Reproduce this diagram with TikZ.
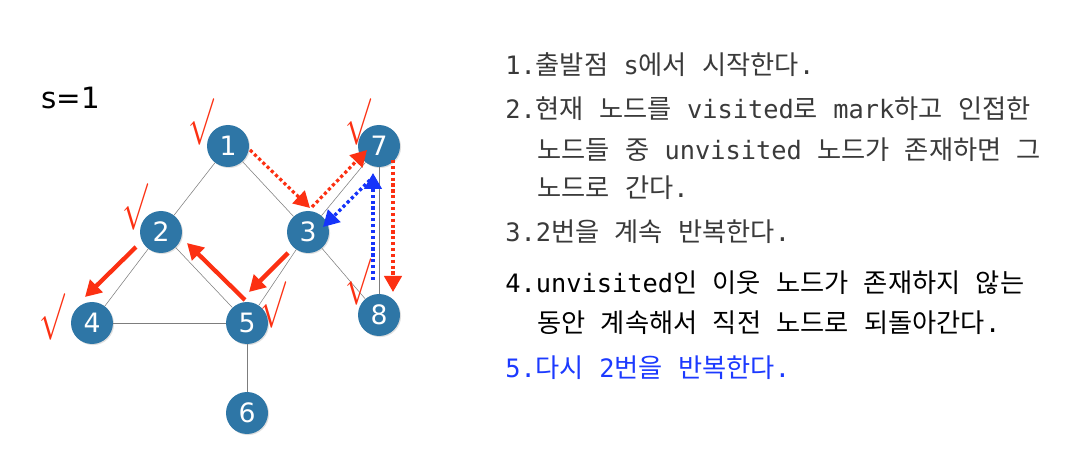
\documentclass[tikz,border=0pt]{standalone}
\usepackage{graphicx}
\usepackage{fontspec}
\setmainfont{DejaVu Sans}
\newfontfamily\kr[WordSpace=2.6]{Noto Sans CJK KR}
\newfontfamily\mono{DejaVu Sans Mono}
\newcommand\mn[1]{{\mono\fontsize{19pt}{22pt}\selectfont#1}}
\newcommand\haek{\scalebox{2.3}[3.5]{$\surd$}}
\usetikzlibrary{arrows,arrows.meta}
\usetikzlibrary{calc,shadows}
\definecolor{knoten}{RGB}{46,118,166}
\definecolor{kante}{RGB}{125,125,125}
\definecolor{rot}{RGB}{252,48,18}
\definecolor{blau}{RGB}{22,52,250}
\definecolor{textgrau}{RGB}{58,58,58}
\definecolor{textblau}{RGB}{28,58,255}

\begin{document}
\begin{tikzpicture}[x=0.75pt,y=-0.75pt,
	knot/.style={circle,fill=knoten,text=white,minimum size=31.5pt,inner sep=0pt,
		font=\fontsize{20pt}{20pt}\selectfont,
		drop shadow={shadow xshift=0.8pt,shadow yshift=-0.8pt,opacity=0.25}},
	haken/.style={text=rot,inner sep=0pt},
	rotpfeil/.style={rot,line width=3.2pt,-{Triangle[length=12pt,width=13pt]}},
	rotpunkt/.style={rot,line width=2.4pt,dash pattern=on 2.4pt off 2pt,-{Triangle[length=12pt,width=13pt]}},
	blaupunkt/.style={blau,line width=2.4pt,dash pattern=on 2.4pt off 2pt,-{Triangle[length=12pt,width=13pt]}},
	zeile/.style={anchor=base west,inner sep=0pt,font=\kr\fontsize{19.7pt}{23pt}\selectfont}]
	\path[use as bounding box,fill=white] (0,0) rectangle (1079,474);
	\node[name=start,anchor=base west,inner sep=0pt,font=\fontsize{22pt}{22pt}\selectfont] at (41,109) {s=1};
	% Knoten
	\node[knot,name=v1] at (228,146) {1};
	\node[knot,name=v2] at (161,232) {2};
	\node[knot,name=v3] at (308,232) {3};
	\node[knot,name=v4] at (92,323) {4};
	\node[knot,name=v5] at (247,323) {5};
	\node[knot,name=v6] at (247,413) {6};
	\node[knot,name=v7] at (379,146) {7};
	\node[knot,name=v8] at (379,315) {8};
	% Kanten
	\draw[kante] (v1) -- (v2) (v1) -- (v3);
	\draw[kante] (v2) -- (v4) (v2) -- (v5);
	\draw[kante] (v3) -- (v5) (v3) -- (v7) (v3) -- (v8);
	\draw[kante] (v4) -- (v5) (v5) -- (v6) (v7) -- (v8);
	% Haken
	\node[haken,name=h1] at (201,122) {\haek};
	\node[haken,name=h2] at (135,207) {\haek};
	\node[haken,name=h4] at (52,317) {\haek};
	\node[haken,name=h5] at (273,305) {\haek};
	\node[haken,name=h7] at (358,122) {\haek};
	\node[haken,name=h8] at (358,282) {\haek};
	% Weg
	\draw[rotpunkt] ($(v1)+(22,4)$) -- ($(v3)+(2,-24)$);
	\draw[rotpunkt] ($(v3)+(4,-25)$) -- ($(v7)+(-12,4)$);
	\draw[rotpunkt] ($(v7)+(14,14)$) -- ($(v8)+(14,-23)$);
	\draw[blaupunkt] ($(v8)+(-6,-35)$) -- ($(v7)+(-6,27)$);
	\draw[blaupunkt] ($(v7)+(-9,34)$) -- ($(v3)+(15,-5)$);
	\draw[rotpfeil] ($(v3)+(-20,21)$) -- ($(v5)+(2,-31)$);
	\draw[rotpfeil] ($(v5)+(-2,-23)$) -- ($(v2)+(26,11)$);
	\draw[rotpfeil] ($(v2)+(-25,15)$) -- ($(v4)+(-7,-26)$);
	% Text
	\node[zeile,textgrau,name=z1] at (505,75) {\mn{1.}출발점 \mn{s}에서 시작한다\mn{.}};
	\node[zeile,textgrau,name=z2] at (505,119) {\mn{2.}현재 노드를 \mn{visited}로 \mn{mark}하고 인접한};
	\node[zeile,textgrau,name=z3] at (537,160) {노드들 중 \mn{unvisited} 노드가 존재하면 그};
	\node[zeile,textgrau,name=z4] at (537,198) {노드로 간다\mn{.}};
	\node[zeile,textgrau,name=z5] at (505,242) {\mn{3.2}번을 계속 반복한다\mn{.}};
	\node[zeile,black,name=z6] at (505,292) {\mn{4.unvisited}인 이웃 노드가 존재하지 않는};
	\node[zeile,black,name=z7] at (537,332) {동안 계속해서 직전 노드로 되돌아간다\mn{.}};
	\node[zeile,textblau,name=z8] at (505,377) {\mn{5.}다시 \mn{2}번을 반복한다\mn{.}};
\end{tikzpicture}
\end{document}
